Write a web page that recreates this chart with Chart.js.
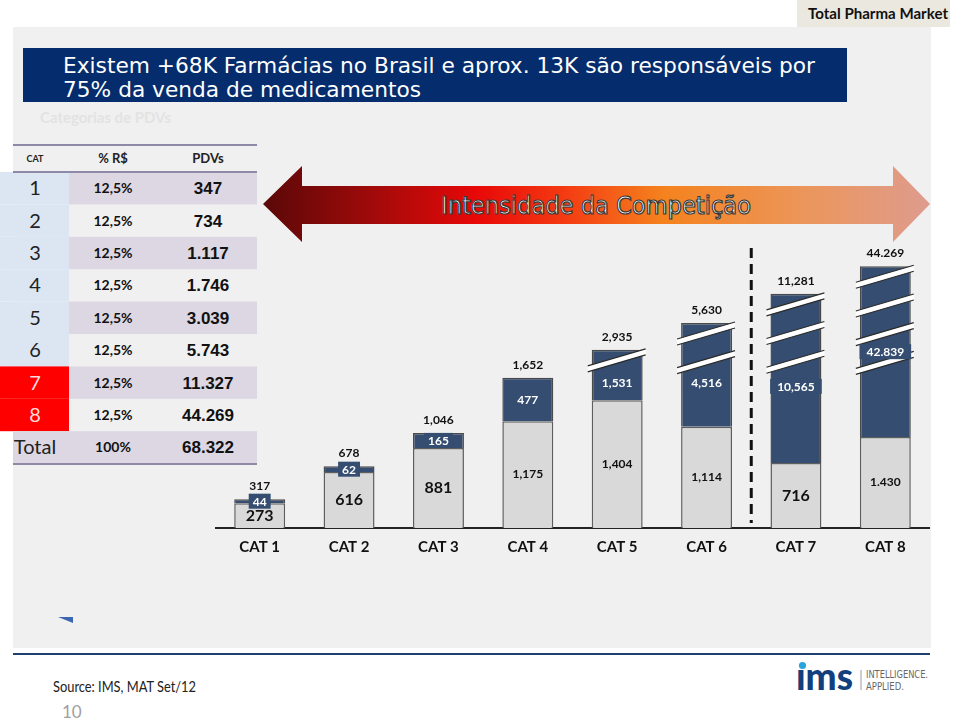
<!DOCTYPE html>
<html>
<head>
<meta charset="utf-8">
<script src="https://cdn.jsdelivr.net/npm/chart.js@4.4.1/dist/chart.umd.min.js"></script>
<style>
    html, body { margin: 0; padding: 0; background: #fff; }
    #page { position: relative; width: 959px; height: 720px; overflow: hidden; }
    #deco { position: absolute; left: 0; top: 0; }
    #chart { position: absolute; left: 215px; top: 208px; }
</style>
</head>
<body>
<div id="page">
<svg id="deco" width="959" height="720" xmlns="http://www.w3.org/2000/svg">
    <defs>
        <linearGradient id="arrowGrad" gradientUnits="userSpaceOnUse" x1="263" y1="0" x2="930" y2="0">
            <stop offset="0" stop-color="#5a0808"/>
            <stop offset="0.18" stop-color="#a80a0a"/>
            <stop offset="0.32" stop-color="#e80808"/>
            <stop offset="0.45" stop-color="#f43a12"/>
            <stop offset="0.6" stop-color="#f5821e"/>
            <stop offset="0.8" stop-color="#ec9558"/>
            <stop offset="1" stop-color="#de9c8e"/>
        </linearGradient>
    </defs>

    <!-- header tag + grey panel -->
    <rect x="797" y="0" width="153" height="27" fill="#ebe8df"/>
    <text x="808" y="19" font-family="Lato" font-weight="bold" font-size="15" fill="#111" textLength="140" lengthAdjust="spacingAndGlyphs">Total Pharma Market</text>
    <rect x="13" y="27" width="918" height="621" fill="#f0f0f0"/>

    <!-- title -->
    <rect x="23" y="48" width="824" height="54" fill="#052c6c"/>
    <text x="63" y="73" font-family="DejaVu Sans" font-size="21" fill="#fff" textLength="752" lengthAdjust="spacingAndGlyphs">Existem +68K Farmácias no Brasil e aprox. 13K são responsáveis por</text>
    <text x="63" y="97" font-family="DejaVu Sans" font-size="21" fill="#fff" textLength="358" lengthAdjust="spacingAndGlyphs">75% da venda de medicamentos</text>
    <text x="40" y="123" font-family="Lato" font-weight="bold" font-size="15" fill="#e3e3e3">Categorias de PDVs</text>

    <!-- table goes here -->
    <g id="table"></g>

    <!-- competition arrow -->
    <polygon points="263,204 302,166 302,186 893,186 893,166 930,204 893,242 893,224 302,224 302,242" fill="url(#arrowGrad)"/>
    <text x="596" y="214" text-anchor="middle" font-family="DejaVu Sans Condensed, DejaVu Sans" font-size="25" fill="#fff" stroke="#3a3a3a" stroke-width="1.2" textLength="310" lengthAdjust="spacingAndGlyphs">Intensidade da Competição</text>

    <!-- little marker, footer -->
    <polygon points="58,617 73,617 73,623" fill="#3a67b0"/>
    <line x1="13" y1="654" x2="930" y2="654" stroke="#1f3f6e" stroke-width="2"/>
    <text x="53" y="692" font-family="Lato" font-size="15" fill="#222" textLength="143" lengthAdjust="spacingAndGlyphs">Source: IMS, MAT Set/12</text>
    <text x="62" y="718" font-family="Lato" font-size="17" fill="#a0a0a0">10</text>

    <!-- ims logo -->
    <text x="796" y="690" font-family="Lato" font-weight="900" font-size="37" fill="#123f7d" textLength="57" lengthAdjust="spacingAndGlyphs">ıms</text>
    <circle cx="802.5" cy="665.5" r="3.6" fill="#29a3dc"/>
    <line x1="861" y1="670" x2="861" y2="690" stroke="#9a9a9a" stroke-width="1"/>
    <text x="866" y="678" font-family="DejaVu Sans Condensed, DejaVu Sans" font-size="10" fill="#666" textLength="62" lengthAdjust="spacingAndGlyphs">INTELLIGENCE.</text>
    <text x="866" y="690" font-family="DejaVu Sans Condensed, DejaVu Sans" font-size="10" fill="#666" textLength="38" lengthAdjust="spacingAndGlyphs">APPLIED.</text>
</svg>
<canvas id="chart" width="715" height="358"></canvas>
</div>

<script>
// ============================================
// DATA
// ============================================

const categories = ['CAT 1', 'CAT 2', 'CAT 3', 'CAT 4', 'CAT 5', 'CAT 6', 'CAT 7', 'CAT 8'];
const baseValues = [273, 616, 881, 1175, 1404, 1114, 716, 1430];
const topValues = [44, 62, 165, 477, 1531, 4516, 10565, 42839];

// part of each segment hidden by the axis breaks (bars 5-8 are cut)
const baseCut = [0, 0, 0, 0, 0, 0, 0, 430];
const topCut = [0, 0, 0, 0, 975, 3375, 8705, 40960];
const breakCount = [0, 0, 0, 0, 1, 2, 3, 4];

// side table
const tableCat = ['1', '2', '3', '4', '5', '6', '7', '8', 'Total'];
const tableShare = ['12,5%', '12,5%', '12,5%', '12,5%', '12,5%', '12,5%', '12,5%', '12,5%', '100%'];
const tablePdvs = ['347', '734', '1.117', '1.746', '3.039', '5.743', '11.327', '44.269', '68.322'];

const NAVY = '#344d70';
const GREY = '#d9d9d9';

// the slide writes CAT 8 with a dot as thousands separator
const fmt = (v, i) => {
    const s = v.toLocaleString('en-US');
    return i === 7 ? s.replace(',', '.') : s;
};

// ============================================
// TABLE
// ============================================

function buildTable() {
    const g = document.getElementById('table');
    const ns = 'http://www.w3.org/2000/svg';
    const add = (tag, attrs, text) => {
        const el = document.createElementNS(ns, tag);
        Object.keys(attrs).forEach(k => el.setAttribute(k, attrs[k]));
        if (text !== undefined) el.textContent = text;
        g.appendChild(el);
        return el;
    };
    const rowH = 32.4, top = 172;

    tableCat.forEach((c, i) => {
        const y = top + i * rowH;
        const isTotal = i === tableCat.length - 1;
        if (i % 2 === 0) add('rect', { x: 69, y: y, width: 188, height: rowH, fill: '#dcd7e3' });
        let c1 = isTotal ? '#dcd7e3' : (i >= 6 ? '#ff0000' : '#dce6f3');
        add('rect', { x: isTotal ? 13 : 0, y: y, width: isTotal ? 56 : 69, height: rowH, fill: c1 });

        const mid = y + rowH / 2;
        add('text', { x: 35, y: mid + 7, 'text-anchor': 'middle', 'font-family': 'Lato', 'font-size': 20,
            fill: (i >= 6 && !isTotal) ? '#ffdada' : '#222' }, c);
        add('text', { x: 113, y: mid + 5, 'text-anchor': 'middle', 'font-family': 'Lato', 'font-weight': 'bold',
            'font-size': 14, fill: '#111' }, tableShare[i]);
        add('text', { x: 208, y: mid + 6, 'text-anchor': 'middle', 'font-family': 'Liberation Sans',
            'font-weight': 'bold', 'font-size': 17, fill: '#111' }, tablePdvs[i]);
    });

    add('text', { x: 35, y: 162, 'text-anchor': 'middle', 'font-family': 'Lato', 'font-weight': 'bold', 'font-size': 9, fill: '#222' }, 'CAT');
    add('text', { x: 113, y: 163, 'text-anchor': 'middle', 'font-family': 'Lato', 'font-weight': 'bold', 'font-size': 13, fill: '#222' }, '% R$');
    add('text', { x: 208, y: 163, 'text-anchor': 'middle', 'font-family': 'Lato', 'font-weight': 'bold', 'font-size': 13, fill: '#222' }, 'PDVs');

    [145, 172, 464].forEach(y => add('line', { x1: 13, y1: y, x2: 257, y2: y, stroke: '#8f89a8', 'stroke-width': 2 }));
}

// ============================================
// CHART
// ============================================

const overlayPlugin = {
    id: 'overlay',
    afterDatasetsDraw(chart) {
        const { ctx, chartArea } = chart;
        const baseMeta = chart.getDatasetMeta(0);
        const topMeta = chart.getDatasetMeta(1);
        ctx.save();

        // axis breaks: white slanted bands across the navy part
        topMeta.data.forEach((bar, i) => {
            const half = bar.width / 2;
            const xl = bar.x - half - 4, xr = bar.x + half + 3;
            for (let k = 0; k < breakCount[i]; k++) {
                const yr = bar.y - 1 + k * 28.7;
                const yl = yr + 17;
                ctx.beginPath();
                ctx.moveTo(xl, yl); ctx.lineTo(xr, yr);
                ctx.lineTo(xr, yr + 6); ctx.lineTo(xl, yl + 6);
                ctx.closePath();
                ctx.fillStyle = '#fff';
                ctx.fill();
                ctx.beginPath();
                ctx.moveTo(xl, yl); ctx.lineTo(xr, yr);
                ctx.moveTo(xl, yl + 6); ctx.lineTo(xr, yr + 6);
                ctx.strokeStyle = '#2b2b2b';
                ctx.lineWidth = 1.2;
                ctx.stroke();
            }
        });

        // dashed separator between CAT 6 and CAT 7
        const xs = (topMeta.data[5].x + topMeta.data[6].x) / 2;
        ctx.beginPath();
        ctx.setLineDash([10, 6]);
        ctx.moveTo(xs, chartArea.top + 20);
        ctx.lineTo(xs, chartArea.bottom - 5);
        ctx.strokeStyle = '#111';
        ctx.lineWidth = 3;
        ctx.stroke();
        ctx.setLineDash([]);

        ctx.textAlign = 'center';
        ctx.textBaseline = 'middle';

        // grey segment labels
        baseMeta.data.forEach((bar, i) => {
            const big = baseValues[i] < 1000;
            ctx.font = `bold ${big ? 16 : 12}px Lato`;
            ctx.fillStyle = '#111';
            ctx.fillText(fmt(baseValues[i], i), bar.x, (bar.y + bar.base) / 2);
        });

        // navy segment labels + totals
        topMeta.data.forEach((bar, i) => {
            let yMid = (bar.y + bar.base) / 2;
            // labels sit a bit below the middle on the cut bars
            if (breakCount[i] > 0 && breakCount[i] < 4) yMid += 8;
            const text = fmt(topValues[i], i);
            ctx.font = 'bold 12px Lato';
            const w = ctx.measureText(text).width + (i >= 6 ? 14 : 8);
            ctx.fillStyle = NAVY;
            ctx.fillRect(bar.x - w / 2, yMid - 7.5, w, 15);
            ctx.fillStyle = '#fff';
            ctx.fillText(text, bar.x, yMid + 0.5);

            ctx.fillStyle = '#111';
            ctx.fillText(fmt(baseValues[i] + topValues[i], i), bar.x, bar.y - 13);
        });

        ctx.restore();
    }
};

function renderChart() {
    const ctx = document.getElementById('chart');
    new Chart(ctx, {
        type: 'bar',
        data: {
            labels: categories,
            datasets: [{
                label: 'base',
                data: baseValues.map((v, i) => v - baseCut[i]),
                backgroundColor: GREY,
                borderColor: '#5e5e5e',
                borderWidth: 1.5,
                barPercentage: 0.57,
                categoryPercentage: 1
            }, {
                label: 'top',
                data: topValues.map((v, i) => v - topCut[i]),
                backgroundColor: NAVY,
                borderColor: '#4a4a4a',
                borderWidth: 1.5,
                barPercentage: 0.57,
                categoryPercentage: 1
            }]
        },
        options: {
            responsive: false,
            animation: false,
            layout: { padding: { top: 20, left: 0, right: 0, bottom: 0 } },
            plugins: {
                legend: { display: false },
                tooltip: { enabled: false }
            },
            scales: {
                x: {
                    stacked: true,
                    grid: { display: false, drawTicks: false },
                    border: { display: true, color: '#222', width: 2 },
                    ticks: {
                        color: '#111',
                        padding: 10,
                        font: { family: 'Lato', size: 15, weight: 'bold' }
                    }
                },
                y: {
                    stacked: true,
                    display: false,
                    min: 0,
                    max: 3300
                }
            }
        },
        plugins: [overlayPlugin]
    });
}

buildTable();
renderChart();
</script>
</body>
</html>
